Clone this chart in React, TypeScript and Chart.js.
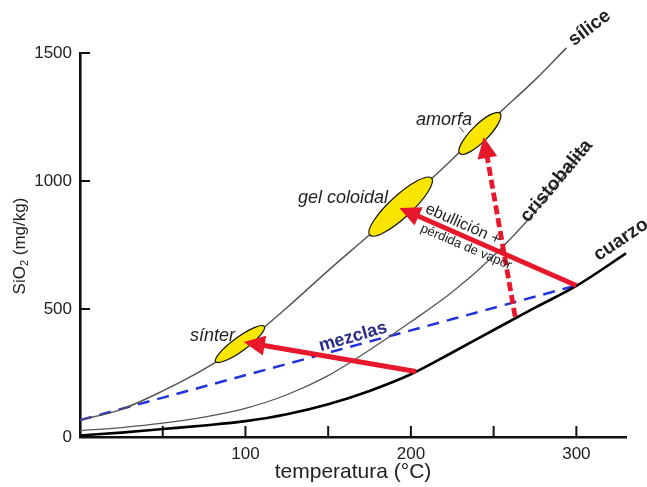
import React, { useEffect, useRef } from 'react';
import { Chart, registerables } from 'chart.js';

Chart.register(...registerables);

// ---- data (temperatura °C, SiO2 mg/kg) ----
const siliceT = [0, 25, 50, 75, 100, 125, 150, 175, 200, 225, 250, 275, 294];
const siliceV = [66, 108, 180, 265, 370, 505, 650, 790, 935, 1085, 1245, 1395, 1520];

const cristobalitaT = [0, 25, 50, 75, 100, 125, 150, 175, 200, 225, 250, 275, 305];
const cristobalitaV = [25, 37, 54, 78, 112, 165, 240, 340, 450, 566, 708, 880, 1130];

const cuarzoT = [0, 25, 50, 75, 100, 125, 150, 175, 200, 225, 250, 275, 300, 330];
const cuarzoV = [6, 17, 31, 45, 62, 89, 128, 180, 245, 330, 418, 505, 590, 717];

const mezclasT = [0, 300];
const mezclasV = [66, 592];

const xTicks = [50, 100, 150, 200, 250, 300];
const xTickLabels = ['100', '200', '300'];
const yTicks = [500, 1000, 1500];

// arrows (from -> to)
const arrowFromT = [203, 300, 263];
const arrowFromV = [256, 592, 470];
const arrowToT = [99, 193, 244];
const arrowToV = [371, 895, 1172];
const arrowDashed = [false, false, true];

// phases on the silica curve
const phaseNames = ['sínter', 'gel coloidal', 'amorfa'];
const phaseT = [96.7, 193.8, 241.7];
const phaseV = [363, 900, 1186];

const FONT = '"Liberation Sans", Arial, Helvetica, sans-serif';

const pts = (t: number[], v: number[]) => t.map((x, i) => ({ x, y: v[i] }));

function drawText(ctx: CanvasRenderingContext2D, text: string, x: number, y: number, angle: number, font: string, color: string) {
  ctx.save();
  ctx.translate(x, y);
  ctx.rotate((angle * Math.PI) / 180);
  ctx.font = font;
  ctx.fillStyle = color;
  ctx.textAlign = 'center';
  ctx.textBaseline = 'middle';
  ctx.fillText(text, 0, 0);
  ctx.restore();
}

const overlayPlugin = {
  id: 'overlay',
  afterDatasetsDraw(chart: any) {
    const ctx: CanvasRenderingContext2D = chart.ctx;
    const xs = chart.scales.x;
    const ys = chart.scales.y;
    const X = (t: number) => xs.getPixelForValue(t);
    const Y = (v: number) => ys.getPixelForValue(v);
    const area = chart.chartArea;

    // inward tick marks
    ctx.save();
    ctx.strokeStyle = '#111';
    ctx.lineWidth = 2;
    xTicks.forEach((t) => {
      ctx.beginPath();
      ctx.moveTo(X(t), area.bottom);
      ctx.lineTo(X(t), area.bottom - 11);
      ctx.stroke();
    });
    yTicks.forEach((v) => {
      ctx.beginPath();
      ctx.moveTo(area.left, Y(v));
      ctx.lineTo(area.left + 10, Y(v));
      ctx.stroke();
    });
    ctx.restore();

    // ellipses
    const sizes = [
      [60, 14, -36],
      [84, 22, -42.6],
      [57, 17, -45],
    ];
    phaseT.forEach((t, i) => {
      const [len, wid, ang] = sizes[i];
      ctx.save();
      ctx.beginPath();
      ctx.ellipse(X(t), Y(phaseV[i]), len / 2, wid / 2, (ang * Math.PI) / 180, 0, Math.PI * 2);
      ctx.fillStyle = '#f9e600';
      ctx.fill();
      ctx.lineWidth = 1.2;
      ctx.strokeStyle = '#111';
      ctx.stroke();
      ctx.restore();
    });

    // leader line for amorfa
    ctx.save();
    ctx.strokeStyle = '#444';
    ctx.lineWidth = 1;
    ctx.beginPath();
    ctx.moveTo(X(229.4), Y(1211));
    ctx.lineTo(X(232), Y(1190));
    ctx.stroke();
    ctx.restore();

    // arrows
    arrowFromT.forEach((t0, i) => {
      const x0 = X(t0), y0 = Y(arrowFromV[i]);
      const x1 = X(arrowToT[i]), y1 = Y(arrowToV[i]);
      const a = Math.atan2(y1 - y0, x1 - x0);
      const headLen = 21, headHalf = 10;
      const bx = x1 - headLen * Math.cos(a), by = y1 - headLen * Math.sin(a);
      ctx.save();
      ctx.strokeStyle = '#e8182c';
      ctx.fillStyle = '#e8182c';
      ctx.lineWidth = arrowDashed[i] ? 4.8 : 5;
      if (arrowDashed[i]) ctx.setLineDash([9, 4]);
      ctx.beginPath();
      ctx.moveTo(x0, y0);
      ctx.lineTo(bx + 2 * Math.cos(a), by + 2 * Math.sin(a));
      ctx.stroke();
      ctx.setLineDash([]);
      ctx.beginPath();
      ctx.moveTo(x1, y1);
      ctx.lineTo(bx + headHalf * Math.sin(a), by - headHalf * Math.cos(a));
      ctx.lineTo(bx - headHalf * Math.sin(a), by + headHalf * Math.cos(a));
      ctx.closePath();
      ctx.fill();
      ctx.restore();
    });

    // labels
    const it = `italic 18px ${FONT}`;
    const bd = `bold 18px ${FONT}`;
    drawText(ctx, phaseNames[0], X(80.1), Y(394), 0, it, '#222');
    drawText(ctx, phaseNames[1], X(159), Y(934), 0, it, '#222');
    drawText(ctx, phaseNames[2], X(220), Y(1238), 0, it, '#222');
    drawText(ctx, 'mezclas', X(165), Y(391), -16, bd, '#2b2d86');
    drawText(ctx, 'ebullición +', X(231.5), Y(830), 24, `16px ${FONT}`, '#222');
    drawText(ctx, 'pérdida de vapor', X(233.3), Y(742), 23, `13px ${FONT}`, '#222');
    drawText(ctx, 'sílice', X(308), Y(1598), -37, `bold 19px ${FONT}`, '#222');
    drawText(ctx, 'cristobalita', X(288), Y(1000), -50, `bold 19px ${FONT}`, '#222');
    drawText(ctx, 'cuarzo', X(327), Y(770), -34, `bold 19px ${FONT}`, '#222');
  },
  afterDraw(chart: any) {
    const ctx: CanvasRenderingContext2D = chart.ctx;
    const area = chart.chartArea;
    // x title
    drawText(ctx, 'temperatura (°C)', (area.left + area.right) / 2, 472, 0, `21px ${FONT}`, '#222');
    // y title with subscript
    ctx.save();
    ctx.translate(20, (area.top + area.bottom) / 2 + 1);
    ctx.rotate(-Math.PI / 2);
    ctx.fillStyle = '#222';
    ctx.textBaseline = 'middle';
    const big = `17px ${FONT}`;
    const small = `11px ${FONT}`;
    ctx.font = big;
    const w1 = ctx.measureText('SiO').width;
    const w3 = ctx.measureText(' (mg/kg)').width;
    ctx.font = small;
    const w2 = ctx.measureText('2').width;
    const total = w1 + w2 + w3;
    let x = -total / 2;
    ctx.textAlign = 'left';
    ctx.font = big;
    ctx.fillText('SiO', x, 0);
    x += w1;
    ctx.font = small;
    ctx.fillText('2', x, 5);
    x += w2;
    ctx.font = big;
    ctx.fillText(' (mg/kg)', x, 0);
    ctx.restore();
  },
};

export default function App() {
  const ref = useRef<HTMLCanvasElement>(null);
  useEffect(() => {
    const lineBase = {
      pointRadius: 0,
      fill: false,
      clip: false as any,
      tension: 0.4,
      cubicInterpolationMode: 'monotone' as const,
    };
    const chart = new Chart(ref.current!, {
      type: 'line',
      data: {
        datasets: [
          { ...lineBase, label: 'sílice', data: pts(siliceT, siliceV), borderColor: '#555', borderWidth: 1.5 },
          { ...lineBase, label: 'cristobalita', data: pts(cristobalitaT, cristobalitaV), borderColor: '#555', borderWidth: 1.3 },
          { ...lineBase, label: 'cuarzo', data: pts(cuarzoT, cuarzoV), borderColor: '#000', borderWidth: 2.6 },
          { ...lineBase, label: 'mezclas', data: pts(mezclasT, mezclasV), borderColor: '#2233dd', borderWidth: 2.5, borderDash: [12, 8], tension: 0 },
        ],
      },
      options: {
        responsive: false,
        animation: false,
        devicePixelRatio: 1,
        layout: { padding: { top: 53, right: 21, left: 0, bottom: 0 } },
        plugins: { legend: { display: false }, tooltip: { enabled: false } },
        scales: {
          x: {
            type: 'linear',
            min: 0,
            max: 330,
            grid: { display: false, drawTicks: false },
            border: { display: true, color: '#111', width: 2.6 },
            afterFit: (s: any) => { s.height = 50; },
            afterBuildTicks: (s: any) => { s.ticks = xTickLabels.map((l) => ({ value: Number(l) })); },
            ticks: { padding: 7, color: '#222', font: { size: 17, family: FONT }, maxRotation: 0, autoSkip: false, callback: (v: any) => String(v) },
          },
          y: {
            type: 'linear',
            min: 0,
            max: 1500,
            grid: { display: false, drawTicks: false },
            border: { display: true, color: '#111', width: 2.6 },
            afterFit: (s: any) => { s.width = 80; },
            ticks: { stepSize: 500, padding: 8, color: '#222', font: { size: 17, family: FONT }, callback: (v: any) => String(v) },
          },
        },
      },
      plugins: [overlayPlugin],
    });
    return () => chart.destroy();
  }, []);
  return (
    <div style={{ position: 'fixed', left: 0, top: 0, width: 647, height: 487, background: '#fff' }}>
      <canvas ref={ref} width={647} height={487} style={{ display: 'block', width: 647, height: 487 }} />
    </div>
  );
}
